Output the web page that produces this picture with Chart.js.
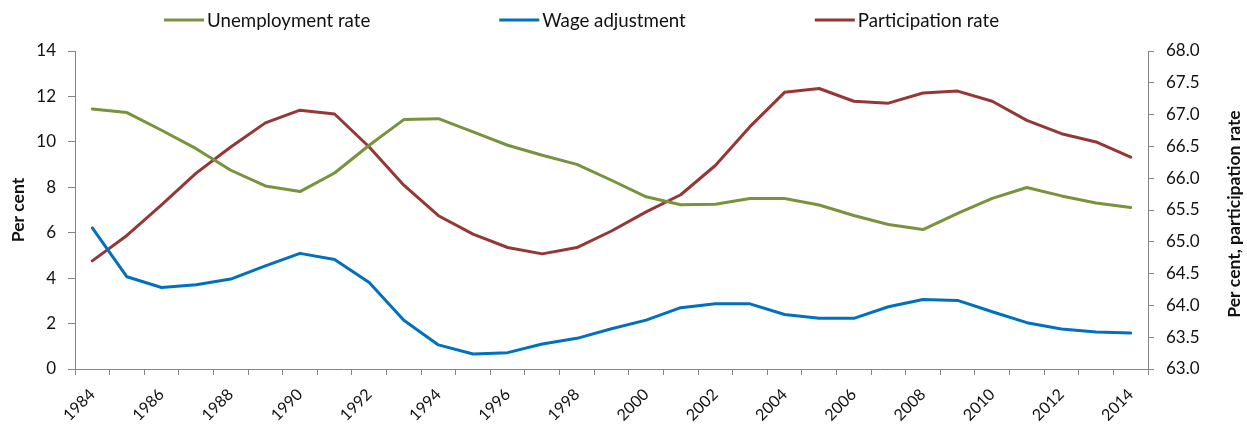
<!DOCTYPE html>
<html>
<head>
<meta charset="utf-8">
<script src="https://cdn.jsdelivr.net/npm/chart.js@4.4.1/dist/chart.umd.min.js"></script>
<style>
    body { margin: 0; background: #fff; }
    #wrap { width: 1247px; height: 426px; }
</style>
</head>
<body>
<div id="wrap"><canvas id="chart" width="1247" height="426"></canvas></div>
<script>
var years = ['1984', '1985', '1986', '1987', '1988', '1989', '1990', '1991', '1992', '1993',
    '1994', '1995', '1996', '1997', '1998', '1999', '2000', '2001', '2002', '2003',
    '2004', '2005', '2006', '2007', '2008', '2009', '2010', '2011', '2012', '2013', '2014'];

var unemploymentRate = [11.45, 11.29, 10.51, 9.70, 8.75, 8.06, 7.81, 8.63, 9.85, 10.98,
    11.02, 10.44, 9.85, 9.41, 9.01, 8.31, 7.58, 7.23, 7.25, 7.51,
    7.51, 7.22, 6.76, 6.36, 6.14, 6.85, 7.51, 7.99, 7.62, 7.31, 7.11];

var wageAdjustment = [6.21, 4.06, 3.59, 3.71, 3.96, 4.54, 5.09, 4.82, 3.81, 2.15,
    1.06, 0.66, 0.72, 1.10, 1.35, 1.77, 2.15, 2.70, 2.87, 2.87,
    2.40, 2.23, 2.23, 2.74, 3.06, 3.02, 2.52, 2.04, 1.76, 1.63, 1.58];

var participationRate = [64.70, 65.10, 65.58, 66.08, 66.49, 66.87, 67.07, 67.01, 66.49, 65.89,
    65.41, 65.12, 64.91, 64.81, 64.91, 65.17, 65.47, 65.74, 66.20, 66.81,
    67.35, 67.41, 67.21, 67.18, 67.34, 67.37, 67.21, 66.91, 66.70, 66.57, 66.33];

var seriesLabels = ['Unemployment rate', 'Wage adjustment', 'Participation rate'];
var seriesColors = ['#77933C', '#0070C0', '#953735'];
var leftTitle = 'Per cent';
var rightTitle = 'Per cent, participation rate';

var fontFamily = 'Lato, sans-serif';
var axisColor = '#868686';
var textColor = '#111';

// legend drawn across the top, items spaced like the original
var topLegend = {
    id: 'topLegend',
    afterDraw: function (chart) {
        var ctx = chart.ctx;
        var x = 164, y = 20;
        ctx.save();
        ctx.font = '18.7px ' + fontFamily;
        ctx.textBaseline = 'middle';
        ctx.textAlign = 'left';
        chart.data.datasets.forEach(function (ds) {
            ctx.strokeStyle = ds.borderColor;
            ctx.lineWidth = 3;
            ctx.beginPath();
            ctx.moveTo(x, y);
            ctx.lineTo(x + 40, y);
            ctx.stroke();
            ctx.fillStyle = textColor;
            ctx.fillText(ds.label, x + 43, y + 1);
            x += 43 + ctx.measureText(ds.label).width + 129;
        });
        ctx.restore();
    }
};

// right axis title reads bottom-to-top like the left one
var rightAxisTitle = {
    id: 'rightAxisTitle',
    afterDraw: function (chart) {
        var ctx = chart.ctx;
        var area = chart.chartArea;
        ctx.save();
        ctx.translate(chart.width - 13, (area.top + area.bottom) / 2 + 4);
        ctx.rotate(-Math.PI / 2);
        ctx.font = 'bold 17.5px ' + fontFamily;
        ctx.fillStyle = textColor;
        ctx.textAlign = 'center';
        ctx.textBaseline = 'middle';
        ctx.fillText(rightTitle, 0, 0);
        ctx.restore();
    }
};

var ctx = document.getElementById('chart').getContext('2d');

var chart = new Chart(ctx, {
    type: 'line',
    data: {
        labels: years,
        datasets: [{
            label: seriesLabels[0],
            data: unemploymentRate,
            borderColor: seriesColors[0],
            backgroundColor: seriesColors[0],
            borderWidth: 3,
            yAxisID: 'y'
        }, {
            label: seriesLabels[1],
            data: wageAdjustment,
            borderColor: seriesColors[1],
            backgroundColor: seriesColors[1],
            borderWidth: 3,
            yAxisID: 'y'
        }, {
            label: seriesLabels[2],
            data: participationRate,
            borderColor: seriesColors[2],
            backgroundColor: seriesColors[2],
            borderWidth: 3,
            yAxisID: 'y1'
        }]
    },
    options: {
        responsive: false,
        animation: false,
        devicePixelRatio: 1,
        layout: {
            padding: { top: 51, left: 0, right: 0, bottom: 0 }
        },
        elements: {
            point: { radius: 0, hoverRadius: 0 },
            line: { tension: 0, borderCapStyle: 'round', borderJoinStyle: 'round' }
        },
        scales: {
            x: {
                type: 'category',
                offset: true,
                afterFit: function (scale) { scale.height = 57; },
                border: { display: true, color: axisColor, width: 1 },
                grid: {
                    offset: true,
                    drawOnChartArea: false,
                    drawTicks: true,
                    tickLength: 6,
                    color: axisColor
                },
                ticks: {
                    autoSkip: false,
                    minRotation: 45,
                    maxRotation: 45,
                    padding: 10,
                    color: textColor,
                    font: { family: fontFamily, size: 16 },
                    callback: function (value, index) {
                        return index % 2 === 0 ? this.getLabelForValue(value) : '';
                    }
                }
            },
            y: {
                position: 'left',
                min: 0,
                max: 14,
                afterFit: function (scale) { scale.width = 75; },
                border: { display: true, color: axisColor, width: 1 },
                grid: {
                    drawOnChartArea: false,
                    drawTicks: true,
                    tickLength: 7,
                    color: axisColor
                },
                ticks: {
                    stepSize: 2,
                    padding: 12,
                    color: textColor,
                    font: { family: fontFamily, size: 17 }
                },
                title: {
                    display: true,
                    text: leftTitle,
                    color: textColor,
                    padding: { top: 8, bottom: 0 },
                    font: { family: fontFamily, size: 17.5, weight: 'bold' }
                }
            },
            y1: {
                position: 'right',
                min: 63,
                max: 68,
                afterFit: function (scale) { scale.width = 99; },
                border: { display: true, color: axisColor, width: 1 },
                grid: {
                    drawOnChartArea: false,
                    drawTicks: true,
                    tickLength: 6,
                    color: axisColor
                },
                ticks: {
                    stepSize: 0.5,
                    padding: 12,
                    color: textColor,
                    font: { family: fontFamily, size: 17 },
                    callback: function (value) { return value.toFixed(1); }
                }
            }
        },
        plugins: {
            legend: { display: false },
            tooltip: { enabled: false }
        }
    },
    plugins: [topLegend, rightAxisTitle]
});
</script>
</body>
</html>
